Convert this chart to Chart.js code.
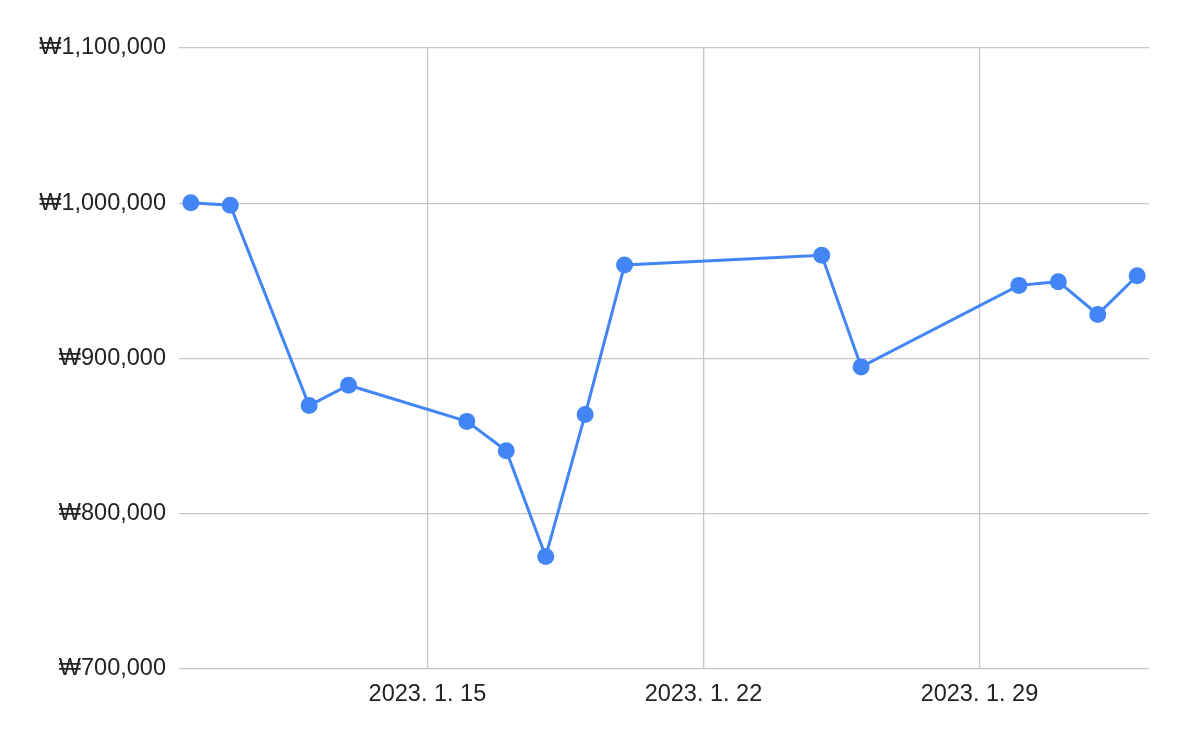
<!DOCTYPE html>
<html>
<head>
<meta charset="utf-8">
<script src="https://cdn.jsdelivr.net/npm/chart.js@4.4.1/dist/chart.umd.min.js"></script>
<style>
  html, body { margin: 0; padding: 0; background: #fff; }
  #wrap { width: 1186px; height: 742px; }
</style>
</head>
<body>
<div id="wrap"><canvas id="chart"></canvas></div>
<script>
// data
const dates = [
  "2023-01-09", "2023-01-10", "2023-01-12", "2023-01-13", "2023-01-16",
  "2023-01-17", "2023-01-18", "2023-01-19", "2023-01-20", "2023-01-25",
  "2023-01-26", "2023-01-30", "2023-01-31", "2023-02-01", "2023-02-02"
];
const prices = [
  1000300, 998700, 869700, 882800, 859500,
  840600, 772500, 863900, 960200, 966500,
  894600, 947100, 949500, 928400, 953300
];
const xTickDates = ["2023-01-15", "2023-01-22", "2023-01-29"];
const yTicks = [700000, 800000, 900000, 1000000, 1100000];

// days counted from 2023-01-00 so the x axis can stay linear
const DAY = 86400000;
const BASE = Date.UTC(2023, 0, 0);
function toDay(s) {
  const [y, m, d] = s.split("-").map(Number);
  return (Date.UTC(y, m - 1, d) - BASE) / DAY;
}
function fmtDay(v) {
  const dt = new Date(BASE + v * DAY);
  return `${dt.getUTCFullYear()}. ${dt.getUTCMonth() + 1}. ${dt.getUTCDate()}`;
}

const points = dates.map((d, i) => ({ x: toDay(d), y: prices[i] }));
const xTicks = xTickDates.map(toDay);

const font = { family: "'Liberation Sans', Arial, sans-serif", size: 23.5 };
const gridColor = "#c6c6c6";

new Chart(document.getElementById("chart"), {
  type: "line",
  data: {
    datasets: [{
      data: points,
      borderColor: "#4285f4",
      backgroundColor: "#4285f4",
      borderWidth: 3,
      pointRadius: 8.5,
      pointBorderWidth: 0,
      tension: 0
    }]
  },
  options: {
    responsive: true,
    maintainAspectRatio: false,
    animation: false,
    layout: { padding: { top: 48, right: 37, bottom: 0, left: 0 } },
    plugins: {
      legend: { display: false },
      tooltip: { enabled: false }
    },
    scales: {
      x: {
        type: "linear",
        min: 8.7,
        max: 33.3,
        afterBuildTicks: (s) => { s.ticks = xTicks.map(v => ({ value: v })); },
        afterFit: (s) => { s.height = 73; },
        grid: { color: gridColor, lineWidth: 1.3, drawTicks: false },
        border: { display: false },
        ticks: {
          font: font,
          color: "#222",
          padding: 11,
          maxRotation: 0,
          callback: (v) => fmtDay(v)
        }
      },
      y: {
        min: yTicks[0],
        max: yTicks[yTicks.length - 1],
        afterBuildTicks: (s) => { s.ticks = yTicks.map(v => ({ value: v })); },
        afterFit: (s) => { s.width = 179; },
        grid: { color: gridColor, lineWidth: 1.3, drawTicks: false },
        border: { display: false },
        ticks: {
          font: font,
          color: "#222",
          padding: 13,
          callback: (v) => "₩" + v.toLocaleString("en-US")
        }
      }
    }
  }
});
</script>
</body>
</html>
